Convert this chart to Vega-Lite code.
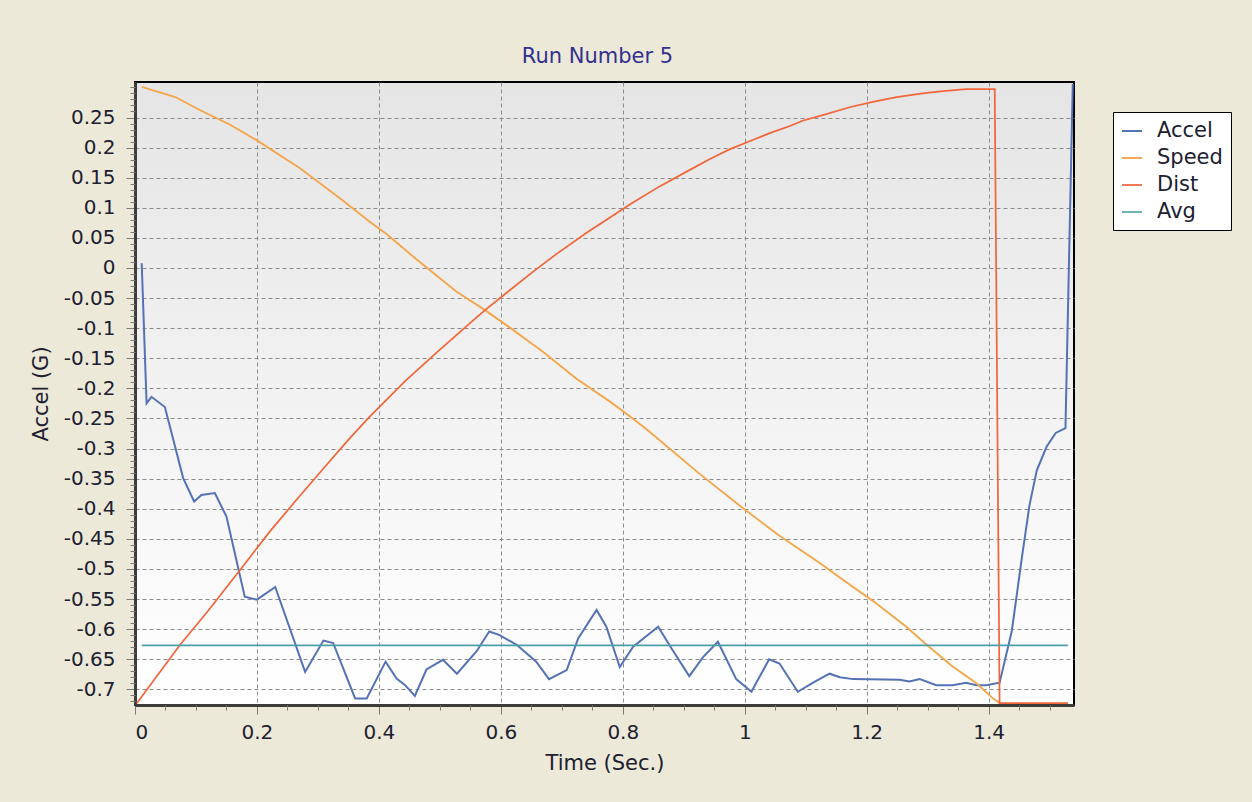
{
  "$schema": "https://vega.github.io/schema/vega-lite/v6.json",
  "width": 939,
  "height": 623,
  "autosize": "none",
  "padding": {"left": 135, "top": 82, "right": 178, "bottom": 97},
  "background": "#ECE9D8",
  "title": {
    "text": "Run Number 5",
    "font": "DejaVu Sans",
    "fontSize": 21,
    "fontWeight": "normal",
    "color": "#33308f",
    "baseline": "alphabetic",
    "offset": 20,
    "dx": -7,
    "dy": 24
  },
  "config": {
    "font": "DejaVu Sans",
    "view": {
      "stroke": "#000000",
      "strokeWidth": 2,
      "fill": {
        "gradient": "linear",
        "x1": 0, "y1": 0, "x2": 0, "y2": 1,
        "stops": [
          {"offset": 0, "color": "#e5e5e5"},
          {"offset": 1, "color": "#ffffff"}
        ]
      }
    }
  },
  "data": {
    "values": [
      {"s": "Accel", "t": 0.011, "v": 0.008},
      {"s": "Accel", "t": 0.019, "v": -0.225},
      {"s": "Accel", "t": 0.027, "v": -0.214},
      {"s": "Accel", "t": 0.049, "v": -0.231},
      {"s": "Accel", "t": 0.079, "v": -0.349},
      {"s": "Accel", "t": 0.097, "v": -0.388},
      {"s": "Accel", "t": 0.109, "v": -0.377},
      {"s": "Accel", "t": 0.131, "v": -0.374},
      {"s": "Accel", "t": 0.150, "v": -0.413},
      {"s": "Accel", "t": 0.180, "v": -0.546},
      {"s": "Accel", "t": 0.200, "v": -0.551},
      {"s": "Accel", "t": 0.230, "v": -0.530},
      {"s": "Accel", "t": 0.279, "v": -0.671},
      {"s": "Accel", "t": 0.309, "v": -0.619},
      {"s": "Accel", "t": 0.325, "v": -0.623},
      {"s": "Accel", "t": 0.361, "v": -0.715},
      {"s": "Accel", "t": 0.380, "v": -0.715},
      {"s": "Accel", "t": 0.411, "v": -0.654},
      {"s": "Accel", "t": 0.429, "v": -0.682},
      {"s": "Accel", "t": 0.443, "v": -0.693},
      {"s": "Accel", "t": 0.459, "v": -0.711},
      {"s": "Accel", "t": 0.478, "v": -0.667},
      {"s": "Accel", "t": 0.505, "v": -0.651},
      {"s": "Accel", "t": 0.528, "v": -0.674},
      {"s": "Accel", "t": 0.560, "v": -0.637},
      {"s": "Accel", "t": 0.581, "v": -0.604},
      {"s": "Accel", "t": 0.598, "v": -0.610},
      {"s": "Accel", "t": 0.626, "v": -0.626},
      {"s": "Accel", "t": 0.658, "v": -0.654},
      {"s": "Accel", "t": 0.679, "v": -0.683},
      {"s": "Accel", "t": 0.708, "v": -0.668},
      {"s": "Accel", "t": 0.727, "v": -0.615},
      {"s": "Accel", "t": 0.757, "v": -0.568},
      {"s": "Accel", "t": 0.773, "v": -0.596},
      {"s": "Accel", "t": 0.795, "v": -0.663},
      {"s": "Accel", "t": 0.817, "v": -0.629},
      {"s": "Accel", "t": 0.858, "v": -0.596},
      {"s": "Accel", "t": 0.880, "v": -0.632},
      {"s": "Accel", "t": 0.909, "v": -0.678},
      {"s": "Accel", "t": 0.932, "v": -0.646},
      {"s": "Accel", "t": 0.956, "v": -0.621},
      {"s": "Accel", "t": 0.986, "v": -0.683},
      {"s": "Accel", "t": 1.011, "v": -0.704},
      {"s": "Accel", "t": 1.040, "v": -0.650},
      {"s": "Accel", "t": 1.057, "v": -0.657},
      {"s": "Accel", "t": 1.087, "v": -0.704},
      {"s": "Accel", "t": 1.115, "v": -0.687},
      {"s": "Accel", "t": 1.139, "v": -0.674},
      {"s": "Accel", "t": 1.156, "v": -0.680},
      {"s": "Accel", "t": 1.178, "v": -0.683},
      {"s": "Accel", "t": 1.254, "v": -0.684},
      {"s": "Accel", "t": 1.270, "v": -0.687},
      {"s": "Accel", "t": 1.287, "v": -0.683},
      {"s": "Accel", "t": 1.314, "v": -0.693},
      {"s": "Accel", "t": 1.341, "v": -0.693},
      {"s": "Accel", "t": 1.363, "v": -0.689},
      {"s": "Accel", "t": 1.380, "v": -0.693},
      {"s": "Accel", "t": 1.396, "v": -0.693},
      {"s": "Accel", "t": 1.418, "v": -0.689},
      {"s": "Accel", "t": 1.438, "v": -0.603},
      {"s": "Accel", "t": 1.454, "v": -0.485},
      {"s": "Accel", "t": 1.467, "v": -0.394},
      {"s": "Accel", "t": 1.479, "v": -0.336},
      {"s": "Accel", "t": 1.495, "v": -0.297},
      {"s": "Accel", "t": 1.510, "v": -0.274},
      {"s": "Accel", "t": 1.526, "v": -0.266},
      {"s": "Accel", "t": 1.538, "v": 0.306},
      {"s": "Speed", "t": 0.011, "v": 0.301},
      {"s": "Speed", "t": 0.066, "v": 0.284},
      {"s": "Speed", "t": 0.107, "v": 0.262},
      {"s": "Speed", "t": 0.156, "v": 0.238},
      {"s": "Speed", "t": 0.200, "v": 0.212},
      {"s": "Speed", "t": 0.270, "v": 0.166},
      {"s": "Speed", "t": 0.336, "v": 0.116},
      {"s": "Speed", "t": 0.385, "v": 0.077},
      {"s": "Speed", "t": 0.413, "v": 0.056},
      {"s": "Speed", "t": 0.462, "v": 0.014},
      {"s": "Speed", "t": 0.527, "v": -0.039},
      {"s": "Speed", "t": 0.574, "v": -0.070},
      {"s": "Speed", "t": 0.612, "v": -0.097},
      {"s": "Speed", "t": 0.669, "v": -0.139},
      {"s": "Speed", "t": 0.724, "v": -0.184},
      {"s": "Speed", "t": 0.779, "v": -0.222},
      {"s": "Speed", "t": 0.811, "v": -0.246},
      {"s": "Speed", "t": 0.839, "v": -0.268},
      {"s": "Speed", "t": 0.926, "v": -0.342},
      {"s": "Speed", "t": 0.992, "v": -0.395},
      {"s": "Speed", "t": 1.057, "v": -0.445},
      {"s": "Speed", "t": 1.123, "v": -0.490},
      {"s": "Speed", "t": 1.161, "v": -0.518},
      {"s": "Speed", "t": 1.210, "v": -0.553},
      {"s": "Speed", "t": 1.265, "v": -0.596},
      {"s": "Speed", "t": 1.303, "v": -0.630},
      {"s": "Speed", "t": 1.341, "v": -0.662},
      {"s": "Speed", "t": 1.380, "v": -0.690},
      {"s": "Speed", "t": 1.407, "v": -0.715},
      {"s": "Speed", "t": 1.418, "v": -0.723},
      {"s": "Dist", "t": 0.003, "v": -0.723},
      {"s": "Dist", "t": 0.074, "v": -0.626},
      {"s": "Dist", "t": 0.118, "v": -0.572},
      {"s": "Dist", "t": 0.172, "v": -0.502},
      {"s": "Dist", "t": 0.221, "v": -0.438},
      {"s": "Dist", "t": 0.265, "v": -0.385},
      {"s": "Dist", "t": 0.309, "v": -0.333},
      {"s": "Dist", "t": 0.352, "v": -0.283},
      {"s": "Dist", "t": 0.385, "v": -0.247},
      {"s": "Dist", "t": 0.443, "v": -0.188},
      {"s": "Dist", "t": 0.495, "v": -0.140},
      {"s": "Dist", "t": 0.549, "v": -0.092},
      {"s": "Dist", "t": 0.574, "v": -0.070},
      {"s": "Dist", "t": 0.612, "v": -0.039},
      {"s": "Dist", "t": 0.653, "v": -0.006},
      {"s": "Dist", "t": 0.691, "v": 0.023},
      {"s": "Dist", "t": 0.740, "v": 0.058},
      {"s": "Dist", "t": 0.779, "v": 0.084},
      {"s": "Dist", "t": 0.814, "v": 0.107},
      {"s": "Dist", "t": 0.861, "v": 0.136},
      {"s": "Dist", "t": 0.910, "v": 0.163},
      {"s": "Dist", "t": 0.943, "v": 0.181},
      {"s": "Dist", "t": 0.975, "v": 0.197},
      {"s": "Dist", "t": 1.014, "v": 0.213},
      {"s": "Dist", "t": 1.041, "v": 0.224},
      {"s": "Dist", "t": 1.074, "v": 0.236},
      {"s": "Dist", "t": 1.096, "v": 0.245},
      {"s": "Dist", "t": 1.128, "v": 0.254},
      {"s": "Dist", "t": 1.172, "v": 0.267},
      {"s": "Dist", "t": 1.210, "v": 0.276},
      {"s": "Dist", "t": 1.249, "v": 0.284},
      {"s": "Dist", "t": 1.292, "v": 0.290},
      {"s": "Dist", "t": 1.325, "v": 0.294},
      {"s": "Dist", "t": 1.363, "v": 0.297},
      {"s": "Dist", "t": 1.410, "v": 0.297},
      {"s": "Dist", "t": 1.418, "v": -0.723},
      {"s": "Dist", "t": 1.530, "v": -0.723},
      {"s": "Avg", "t": 0.011, "v": -0.627},
      {"s": "Avg", "t": 1.530, "v": -0.627}
    ]
  },
  "layer": [
    {
      "mark": {"type": "line", "clip": false},
      "encoding": {
        "x": {
          "field": "t",
          "type": "quantitative",
          "scale": {"domain": [0, 1.54], "nice": false, "zero": false},
          "axis": {
            "orient": "bottom",
            "title": "Time (Sec.)",
            "values": [0, 0.2, 0.4, 0.6, 0.8, 1, 1.2, 1.4],
            "format": "~g",
            "grid": true,
            "gridDash": [4, 3],
            "gridColor": "#8c8c8c",
            "gridOpacity": 1,
            "domainColor": "#3c3c3c",
            "domainWidth": 3,
            "tickColor": "#7a7a7a",
            "tickSize": 9,
            "labelFontSize": 20,
            "labelColor": "#202030",
            "labelPadding": 8,
            "titleFontSize": 21,
            "titleFontWeight": "normal",
            "titleColor": "#202030",
            "titlePadding": 10
          }
        },
        "y": {
          "field": "v",
          "type": "quantitative",
          "scale": {"domain": [-0.726, 0.309], "nice": false, "zero": false},
          "axis": {
            "orient": "left",
            "title": "Accel (G)",
            "values": [-0.7, -0.65, -0.6, -0.55, -0.5, -0.45, -0.4, -0.35, -0.3, -0.25, -0.2, -0.15, -0.1, -0.05, 0, 0.05, 0.1, 0.15, 0.2, 0.25],
            "labelExpr": "replace(format(datum.value, '.2~f'), '−', '-')",
            "grid": true,
            "gridDash": [4, 3],
            "gridColor": "#8c8c8c",
            "gridOpacity": 1,
            "domainColor": "#3c3c3c",
            "domainWidth": 3,
            "tickColor": "#7a7a7a",
            "tickSize": 9,
            "labelFontSize": 20,
            "labelColor": "#202030",
            "labelPadding": 11,
            "titleFontSize": 21,
            "titleFontWeight": "normal",
            "titleColor": "#202030",
            "titlePadding": 12
          }
        },
        "color": {
          "field": "s",
          "type": "nominal",
          "scale": {
            "domain": ["Accel", "Speed", "Dist", "Avg"],
            "range": ["#5472b5", "#f5a64a", "#f2663a", "#4ba0a8"]
          },
          "legend": {
            "orient": "none",
            "legendX": 978,
            "legendY": 30,
            "title": null,
            "fillColor": "#ffffff",
            "strokeColor": "#000000",
            "padding": 8,
            "symbolType": "stroke",
            "symbolSize": 400,
            "symbolStrokeWidth": 2,
            "labelFontSize": 21,
            "labelColor": "#202030",
            "labelOffset": 14,
            "rowPadding": 6
          }
        },
        "strokeWidth": {
          "field": "s",
          "type": "nominal",
          "scale": {"domain": ["Accel", "Speed", "Dist", "Avg"], "range": [2, 1.6, 2, 1.6]},
          "legend": null
        }
      }
    },
    {
      "transform": [{"filter": "datum.s == 'Avg'"}],
      "mark": {"type": "line", "opacity": 0},
      "encoding": {
        "x": {
          "field": "t",
          "type": "quantitative",
          "scale": {"domain": [0, 1.54], "nice": false, "zero": false},
          "axis": {
            "orient": "bottom",
            "title": null,
            "values": [0.05, 0.1, 0.15, 0.25, 0.3, 0.35, 0.45, 0.5, 0.55, 0.65, 0.7, 0.75, 0.85, 0.9, 0.95, 1.05, 1.1, 1.15, 1.25, 1.3, 1.35, 1.45, 1.5],
            "labels": false,
            "grid": false,
            "domain": false,
            "tickColor": "#7a7a7a",
            "tickSize": 5
          }
        },
        "y": {
          "field": "v",
          "type": "quantitative",
          "scale": {"domain": [-0.726, 0.309], "nice": false, "zero": false},
          "axis": {
            "orient": "left",
            "title": null,
            "values": [-0.72, -0.71, -0.69, -0.68, -0.67, -0.66, -0.64, -0.63, -0.62, -0.61, -0.59, -0.58, -0.57, -0.56, -0.54, -0.53, -0.52, -0.51, -0.49, -0.48, -0.47, -0.46, -0.44, -0.43, -0.42, -0.41, -0.39, -0.38, -0.37, -0.36, -0.34, -0.33, -0.32, -0.31, -0.29, -0.28, -0.27, -0.26, -0.24, -0.23, -0.22, -0.21, -0.19, -0.18, -0.17, -0.16, -0.14, -0.13, -0.12, -0.11, -0.09, -0.08, -0.07, -0.06, -0.04, -0.03, -0.02, -0.01, 0.01, 0.02, 0.03, 0.04, 0.06, 0.07, 0.08, 0.09, 0.11, 0.12, 0.13, 0.14, 0.16, 0.17, 0.18, 0.19, 0.21, 0.22, 0.23, 0.24, 0.26, 0.27, 0.28, 0.29, 0.3],
            "labels": false,
            "grid": false,
            "domain": false,
            "tickColor": "#7a7a7a",
            "tickSize": 5
          }
        }
      }
    }
  ],
  "resolve": {"axis": {"x": "independent", "y": "independent"}}
}
